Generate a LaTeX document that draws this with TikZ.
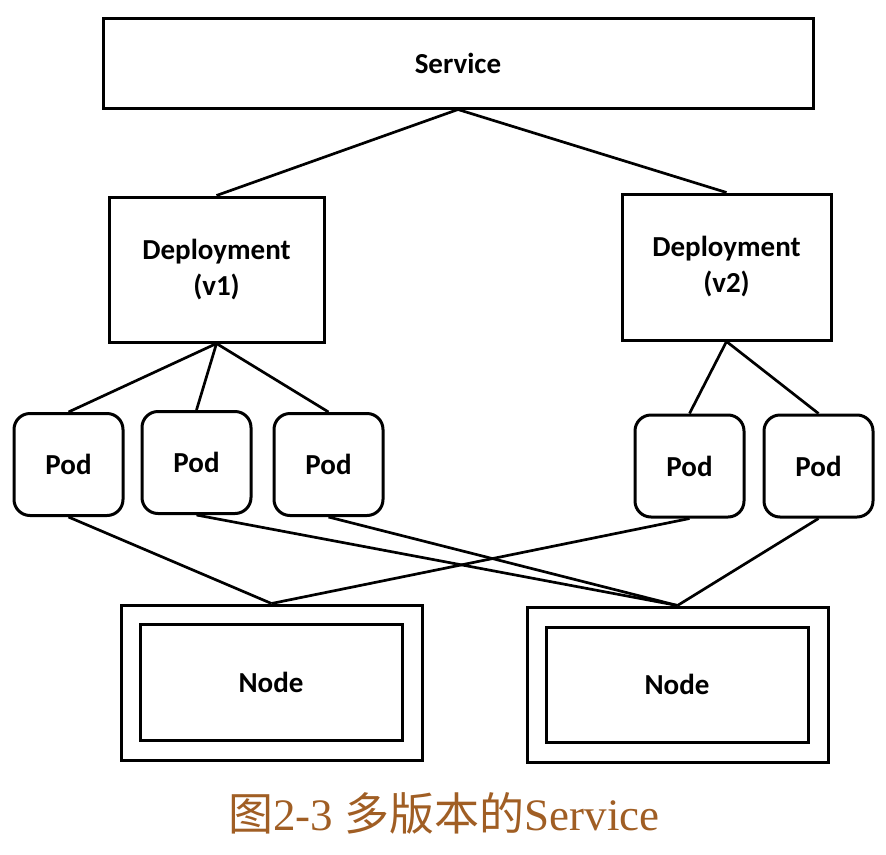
\documentclass[tikz,border=0pt]{standalone}
\usepackage{fontspec}
\setmainfont{Liberation Serif}
\newfontfamily\labelfont{Carlito}
\newfontfamily\cjk{Noto Sans CJK SC}
\usetikzlibrary{positioning}
\definecolor{CaptionColor}{RGB}{160,94,36}

\begin{document}
\begin{tikzpicture}[
    x=1pt, y=-1pt,
    box/.style={rectangle, draw, line width=3pt, inner sep=0pt, align=center, font=\labelfont\bfseries\fontsize{29}{36}\selectfont},
    svcbox/.style={box, minimum width=710pt, minimum height=90pt},
    depbox/.style={box, minimum width=212pt, minimum height=145pt},
    podbox/.style={box, rounded corners=16pt, minimum width=109pt, minimum height=102pt},
    nodeouter/.style={box, minimum width=301pt, minimum height=155pt},
    nodeinner/.style={box, minimum width=262pt, minimum height=116pt},
    link/.style={line width=2.7pt}
]
\useasboundingbox (0,0) rectangle (886,854);

%%%%%%%%%%%%%%%%%%%%%%%%%%%%%%%%%%%%%%%%%%%%%%%%%%%%%%%%%%%%%%%%%%%
% Service (Top)
%%%%%%%%%%%%%%%%%%%%%%%%%%%%%%%%%%%%%%%%%%%%%%%%%%%%%%%%%%%%%%%%%%%
\node[svcbox] (service) at (458, 63) {Service};

%%%%%%%%%%%%%%%%%%%%%%%%%%%%%%%%%%%%%%%%%%%%%%%%%%%%%%%%%%%%%%%%%%%
% Deployments
%%%%%%%%%%%%%%%%%%%%%%%%%%%%%%%%%%%%%%%%%%%%%%%%%%%%%%%%%%%%%%%%%%%
\node[depbox, minimum width=215pt] (dep_v1) at (216.5, 269.5) {Deployment\\(v1)};
\node[depbox, minimum width=209pt, minimum height=146pt] (dep_v2) at (726.5, 267) {Deployment\\(v2)};

%%%%%%%%%%%%%%%%%%%%%%%%%%%%%%%%%%%%%%%%%%%%%%%%%%%%%%%%%%%%%%%%%%%
% Pods
%%%%%%%%%%%%%%%%%%%%%%%%%%%%%%%%%%%%%%%%%%%%%%%%%%%%%%%%%%%%%%%%%%%
\node[podbox] (pod_a) at (68.5, 464.5) {Pod};
\node[podbox] (pod_b) at (196.5, 462.5) {Pod};
\node[podbox] (pod_c) at (328.5, 464.5) {Pod};
\node[podbox] (pod_d) at (689.5, 466) {Pod};
\node[podbox] (pod_e) at (818.5, 466) {Pod};

%%%%%%%%%%%%%%%%%%%%%%%%%%%%%%%%%%%%%%%%%%%%%%%%%%%%%%%%%%%%%%%%%%%
% Nodes (Bottom)
%%%%%%%%%%%%%%%%%%%%%%%%%%%%%%%%%%%%%%%%%%%%%%%%%%%%%%%%%%%%%%%%%%%
\node[nodeouter] (node_l) at (271.5, 682.5) {};
\node[nodeinner] (node_l_in) at (271, 682.5) {Node};

\node[nodeouter] (node_r) at (677.5, 684.5) {};
\node[nodeinner, minimum height=115pt] (node_r_in) at (677, 684.5) {Node};

%%%%%%%%%%%%%%%%%%%%%%%%%%%%%%%%%%%%%%%%%%%%%%%%%%%%%%%%%%%%%%%%%%%
% Connections
%%%%%%%%%%%%%%%%%%%%%%%%%%%%%%%%%%%%%%%%%%%%%%%%%%%%%%%%%%%%%%%%%%%
\draw[link] (service.south) -- (dep_v1.north);
\draw[link] (service.south) -- (dep_v2.north);

\draw[link] (dep_v1.south) -- (pod_a.north);
\draw[link] (dep_v1.south) -- (pod_b.north);
\draw[link] (dep_v1.south) -- (pod_c.north);
\draw[link] (dep_v2.south) -- (pod_d.north);
\draw[link] (dep_v2.south) -- (pod_e.north);

\draw[link] (pod_a.south) -- (node_l.north);
\draw[link] (pod_d.south) -- (node_l.north);
\draw[link] (pod_b.south) -- (node_r.north);
\draw[link] (pod_c.south) -- (node_r.north);
\draw[link] (pod_e.south) -- (node_r.north);

%%%%%%%%%%%%%%%%%%%%%%%%%%%%%%%%%%%%%%%%%%%%%%%%%%%%%%%%%%%%%%%%%%%
% Caption
%%%%%%%%%%%%%%%%%%%%%%%%%%%%%%%%%%%%%%%%%%%%%%%%%%%%%%%%%%%%%%%%%%%
\node[text=CaptionColor, font=\fontsize{45}{50}\selectfont, inner sep=0pt] (caption) at (444, 813)
    {{\cjk 图}2-3 {\cjk 多版本的}Service};

\end{tikzpicture}
\end{document}
